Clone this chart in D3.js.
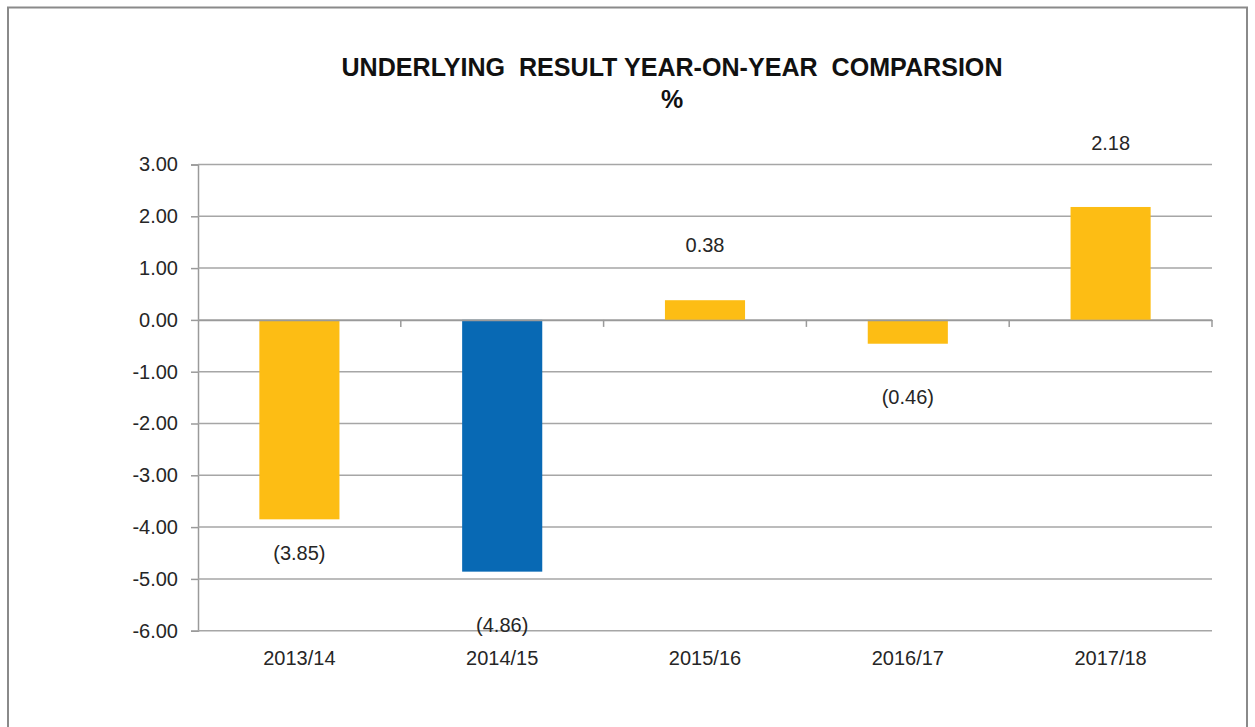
<!DOCTYPE html>
<html>
<head>
<meta charset="utf-8">
<script src="https://cdn.jsdelivr.net/npm/d3@7"></script>
<style>
  html, body { margin: 0; padding: 0; background: #fff; }
  svg { display: block; font-family: "Liberation Sans", Arial, sans-serif; }
</style>
</head>
<body>
<svg id="chart" width="1255" height="727"></svg>
<script>
// chart data
const years = ['2013/14', '2014/15', '2015/16', '2016/17', '2017/18'];
const result = [-3.85, -4.86, 0.38, -0.46, 2.18];
const barColours = ['#fdbd14', '#0869b4', '#fdbd14', '#fdbd14', '#fdbd14'];
const yTicks = [3, 2, 1, 0, -1, -2, -3, -4, -5, -6];

// how far each value label sits from the end of its bar (px)
const labelGap = [34, 53, 55, 53, 64];

const svg = d3.select('#chart');
const W = 1255, H = 727;
const plot = { left: 198, right: 1212, top: 164.5, bottom: 630.7 };

const loc = d3.formatLocale({ decimal: '.', thousands: ',', grouping: [3], currency: ['$', ''], minus: '-' });
const tickFmt = loc.format('.2f');
const valFmt = v => v < 0 ? '(' + loc.format('.2f')(-v) + ')' : loc.format('.2f')(v);

// outer frame (bottom edge runs off the picture)
svg.append('path')
    .attr('d', `M8,${H + 5} V7.5 H1247 V${H + 5}`)
    .attr('fill', 'none')
    .attr('stroke', '#8a8a8a')
    .attr('stroke-width', 2);

const x = d3.scaleBand()
    .domain(years)
    .range([plot.left, plot.right])
    .paddingInner(0.605)
    .paddingOuter(0.3025);

const y = d3.scaleLinear()
    .domain([-6, 3])
    .range([plot.bottom, plot.top]);

// title
svg.append('text')
    .attr('x', 672).attr('y', 76)
    .attr('text-anchor', 'middle')
    .attr('font-size', 25).attr('font-weight', 'bold')
    .attr('fill', '#111')
    .attr('textLength', 661).attr('lengthAdjust', 'spacingAndGlyphs')
    .style('white-space', 'pre')
    .text('UNDERLYING  RESULT YEAR-ON-YEAR  COMPARSION');
svg.append('text')
    .attr('x', 672).attr('y', 108)
    .attr('text-anchor', 'middle')
    .attr('font-size', 25).attr('font-weight', 'bold')
    .attr('fill', '#111')
    .text('%');

// y axis with gridlines
const yAxis = svg.append('g')
    .attr('transform', `translate(${plot.left},0)`)
    .call(d3.axisLeft(y).tickValues(yTicks).tickFormat(tickFmt).tickSize(7).tickPadding(13));
yAxis.select('.domain').attr('stroke', '#9a9a9a').attr('stroke-width', 1.5);
yAxis.selectAll('.tick line').attr('stroke', '#9a9a9a').attr('stroke-width', 1.5);
yAxis.selectAll('.tick text')
    .attr('font-size', 20).attr('fill', '#262626')
    .attr('font-family', '"Liberation Sans", Arial, sans-serif');

svg.append('g')
    .selectAll('line')
    .data(yTicks)
    .join('line')
    .attr('x1', plot.left).attr('x2', plot.right)
    .attr('y1', d => y(d)).attr('y2', d => y(d))
    .attr('stroke', '#a6a6a6')
    .attr('stroke-width', 1.5);

// bars
svg.append('g')
    .selectAll('rect')
    .data(years)
    .join('rect')
    .attr('x', d => x(d))
    .attr('width', x.bandwidth())
    .attr('y', (d, i) => y(Math.max(0, result[i])))
    .attr('height', (d, i) => Math.abs(y(result[i]) - y(0)))
    .attr('fill', (d, i) => barColours[i]);

// category axis sitting on the zero line
const xAxis = svg.append('g')
    .attr('transform', `translate(0,${y(0)})`)
    .call(d3.axisBottom(x).tickSize(0).tickFormat(''));
xAxis.select('.domain').attr('stroke', '#9a9a9a').attr('stroke-width', 1.5);

const bounds = d3.range(years.length + 1).map(i => plot.left + i * x.step());
svg.append('g')
    .selectAll('line')
    .data(bounds.slice(1))
    .join('line')
    .attr('x1', d => d).attr('x2', d => d)
    .attr('y1', y(0)).attr('y2', y(0) + 7)
    .attr('stroke', '#9a9a9a')
    .attr('stroke-width', 1.5);

// category labels under the plot
svg.append('g')
    .selectAll('text')
    .data(years)
    .join('text')
    .attr('x', d => x(d) + x.bandwidth() / 2)
    .attr('y', plot.bottom + 27)
    .attr('dy', '0.35em')
    .attr('text-anchor', 'middle')
    .attr('font-size', 20)
    .attr('fill', '#262626')
    .text(d => d);

// value labels
svg.append('g')
    .selectAll('text')
    .data(years)
    .join('text')
    .attr('x', d => x(d) + x.bandwidth() / 2)
    .attr('y', (d, i) => result[i] < 0 ? y(result[i]) + labelGap[i] : y(result[i]) - labelGap[i])
    .attr('dy', '0.35em')
    .attr('text-anchor', 'middle')
    .attr('font-size', 20)
    .attr('fill', '#262626')
    .text((d, i) => valFmt(result[i]));
</script>
</body>
</html>
